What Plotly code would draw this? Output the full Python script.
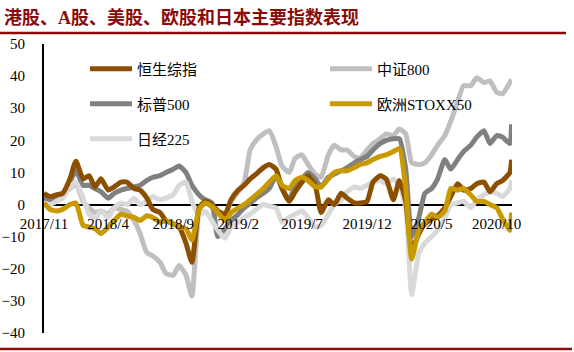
import pandas as pd
import plotly.graph_objects as go

# ---------------- data ----------------
# half-monthly observation dates (1st and 15th), Nov 2017 .. Nov 2020
dates = []
for p in pd.period_range("2017-11", "2020-10", freq="M"):
    dates.append(p.start_time)
    dates.append(p.start_time + pd.Timedelta(days=14))
dates += [pd.Timestamp("2020-11-01"), pd.Timestamp("2020-11-05")]

hsci = [3.5, 2.5, 3, 3.5, 8, 13.5, 8, 9, 5.5, 8, 4.5, 5.5, 7, 7, 5, 4.5, 2, -1.5, -2.5, -5,
        -6, -7, -12, -18, -1, 1, 0, -2, -3, 1.5, 4.5, 6, 8, 9.5, 11.5, 12.5, 11, 5, 1, 4,
        7, 9, 6, -2.5, 1.5, 0, 3.5, 2, 0.5, 0.5, 1, 7, 9, 8, 1.5, 7.5, 1, -14, -9, -6,
        -4.5, -3.5, -1, 2.5, 6.5, 4.5, 5, 6.5, 7, 4, 6.5, 7.5, 10, 14]

csi800 = [2.5, 1, 2, 3, 5, 6.5, 1, -1, -2.5, -2, -3, -1, -1.5, -2, -5, -9, -15, -16, -18, -21.5,
          -22, -19, -22, -28.5, -2, 1, -1, -3, -3, 1, 4, 7, 17, 20, 22, 23, 18, 12, 10, 14.5,
          15.5, 12.5, 9.5, 8.5, 15.5, 18.5, 17, 17, 15, 14.5, 17, 19, 20.5, 22, 21.5, 23.5, 22, 13, 12.5, 13,
          15.5, 18.5, 21.5, 26, 32, 37, 37, 39.5, 38, 38.5, 35, 34.5, 38, 39]

spx = [2, 1.5, 3, 3.5, 7, 10.5, 6, 6, 5, 4, 2, 3.5, 4.5, 5, 5.5, 6, 7.5, 8.5, 9, 10,
       11, 12, 10, 6, 3, 1.5, 0.5, -10, -7.5, -5, -3, -1, 0.5, 2, 3.5, 5, 9, 5, 1.5, 6,
       8, 10, 8, 5.5, 8.5, 9.5, 10.5, 11.5, 13, 14, 15, 17, 19, 20, 20.5, 20.5, 11, -10, -4, 3.5,
       5, 8, 14, 11, 14, 16.5, 18.5, 21, 23, 19, 21.5, 21, 19, 25]

stoxx = [0.5, -1.5, -2, -1.5, 0, 0.5, -6.5, -7, -7.5, -9, -7, -5, -3, -3.5, -4, -5, -3.5, -4, -5.5, -5,
         -6, -7, -7.5, -11, -1.5, 0.5, -0.5, -2.5, -5, -2.5, -1, 0, 1.5, 3, 5, 7, 9, 6, 5, 7.5,
         8.5, 7.5, 5.5, 5.5, 8, 10, 10.5, 10.5, 11.5, 12.5, 13, 14, 15, 15.5, 16.5, 17.5, 5, -17, -8, -5.5,
         -3, -4, -2, 5, 4.5, 5, 3, 1, 1, 0, -1, -4.5, -8, -2.5]

nikkei = [0.5, 0, 1, 2, 5.5, 7, 2, -3, -4.5, -2, -4, -1, 0.5, 0, 2, 0, 1, 2.5, 1.5, 2,
          3, 6, 7, 1, -3.5, -2, -5, -8, -10.5, -7, -5.5, -4, -3, -1.5, 0, -0.5, -1, -5.5, -4, -3,
          -2, -4, -7, -6.5, -3, 0, 1.5, 4, 5.5, 5, 6, 7, 7.5, 6.5, 8, 6, -1, -28, -15, -12,
          -10, -8, -4, 0, 0.5, 1, -1, 1.5, 3, 4, 3.5, 2.5, 5, 7.5]

tick_dates = ["2017-11-01", "2018-04-01", "2018-09-01", "2019-02-01",
              "2019-07-01", "2019-12-01", "2020-05-01", "2020-10-01"]
tick_text = ["2017/11", "2018/4", "2018/9", "2019/2", "2019/7", "2019/12", "2020/5", "2020/10"]

names = ["恒生综指", "中证800", "标普500", "欧洲STOXX50", "日经225"]
series = [hsci, csi800, spx, stoxx, nikkei]
colors = ["#8C4F00", "#BFBFBF", "#808080", "#C99A00", "#D9D9D9"]
draw_order = [1, 2, 4, 0, 3]

# ---------------- layout geometry ----------------
W, H = 574, 352
L, R, T, B = 44, 62, 44, 19
pw, ph = W - L - R, H - T - B


def px(x):
    return (x - L) / pw


def py(y):
    return (H - B - y) / ph


legend_pos = {0: (85, 69), 1: (325, 69), 2: (85, 104), 3: (325, 104), 4: (85, 139)}
legend_keys = ["legend", "legend2", "legend3", "legend4", "legend5"]

font_main = "Liberation Serif, Noto Sans CJK SC, serif"

fig = go.Figure()
for k in draw_order:
    fig.add_trace(go.Scatter(
        x=dates, y=series[k], mode="lines", name=names[k],
        line=dict(color=colors[k], width=5, shape="spline", smoothing=0.5),
        legend=legend_keys[k], showlegend=True,
    ))

layout_legends = {}
for k, key in enumerate(legend_keys):
    lx, ly = legend_pos[k]
    layout_legends[key] = dict(
        x=px(lx), y=py(ly), xanchor="left", yanchor="middle",
        bgcolor="rgba(0,0,0,0)", borderwidth=0, itemwidth=42,
        font=dict(family=font_main, size=15, color="#000000"),
    )

fig.update_layout(
    width=W, height=H,
    margin=dict(l=L, r=R, t=T, b=B, pad=0, autoexpand=False),
    paper_bgcolor="white", plot_bgcolor="white",
    showlegend=True,
    xaxis=dict(
        type="date", range=["2017-11-01", "2020-11-06"],
        tickvals=tick_dates, ticktext=tick_text,
        showgrid=False, zeroline=False, automargin=False,
        showline=False,
        anchor="free", position=40 / 90,
        ticks="outside", ticklen=5, tickcolor="rgba(0,0,0,0)",
        tickfont=dict(family="Liberation Serif, serif", size=15, color="black"),
        layer="above traces",
    ),
    yaxis=dict(
        range=[-40, 50], dtick=10, tick0=0,
        showgrid=False, automargin=False,
        zeroline=True, zerolinecolor="black", zerolinewidth=2,
        showline=True, linecolor="black", linewidth=2,
        ticks="outside", ticklen=14, tickcolor="rgba(0,0,0,0)",
        tickfont=dict(family="Liberation Serif, serif", size=15, color="black"),
    ),
    **layout_legends,
    annotations=[dict(
        text="<b>港股、A股、美股、欧股和日本主要指数表现</b>",
        xref="paper", yref="paper", x=px(2), y=py(18),
        xanchor="left", yanchor="middle", showarrow=False,
        font=dict(family="Liberation Serif, Noto Sans CJK SC, serif", size=18, color="#8B0A0A"),
    )],
    shapes=[
        dict(type="line", xref="paper", yref="paper", x0=px(0), x1=px(566), y0=py(33), y1=py(33),
             line=dict(color="#8B0A0A", width=2.5)),
        dict(type="line", xref="paper", yref="paper", x0=px(0), x1=px(572), y0=py(349), y1=py(349),
             line=dict(color="#8B0A0A", width=2.5)),
    ],
)

fig.write_html("out.html")
